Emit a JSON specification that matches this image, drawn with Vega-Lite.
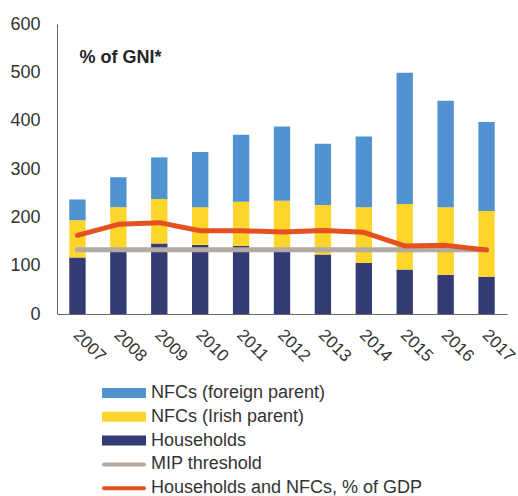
{
  "$schema": "https://vega.github.io/schema/vega-lite/v6.json",
  "width": 450,
  "height": 290,
  "autosize": {"type": "none"},
  "padding": {"left": 57, "top": 24, "right": 12, "bottom": 182},
  "background": "white",
  "datasets": {
    "bars": [
      {"year": "2007", "series": "Households", "value": 117},
      {"year": "2007", "series": "NFCs (Irish parent)", "value": 77},
      {"year": "2007", "series": "NFCs (foreign parent)", "value": 43},
      {"year": "2008", "series": "Households", "value": 130},
      {"year": "2008", "series": "NFCs (Irish parent)", "value": 91},
      {"year": "2008", "series": "NFCs (foreign parent)", "value": 62},
      {"year": "2009", "series": "Households", "value": 146},
      {"year": "2009", "series": "NFCs (Irish parent)", "value": 92},
      {"year": "2009", "series": "NFCs (foreign parent)", "value": 86},
      {"year": "2010", "series": "Households", "value": 143},
      {"year": "2010", "series": "NFCs (Irish parent)", "value": 78},
      {"year": "2010", "series": "NFCs (foreign parent)", "value": 114},
      {"year": "2011", "series": "Households", "value": 141},
      {"year": "2011", "series": "NFCs (Irish parent)", "value": 91},
      {"year": "2011", "series": "NFCs (foreign parent)", "value": 139},
      {"year": "2012", "series": "Households", "value": 130},
      {"year": "2012", "series": "NFCs (Irish parent)", "value": 104.5},
      {"year": "2012", "series": "NFCs (foreign parent)", "value": 153.5},
      {"year": "2013", "series": "Households", "value": 123},
      {"year": "2013", "series": "NFCs (Irish parent)", "value": 102.5},
      {"year": "2013", "series": "NFCs (foreign parent)", "value": 126.5},
      {"year": "2014", "series": "Households", "value": 106},
      {"year": "2014", "series": "NFCs (Irish parent)", "value": 114.7},
      {"year": "2014", "series": "NFCs (foreign parent)", "value": 146.3},
      {"year": "2015", "series": "Households", "value": 92},
      {"year": "2015", "series": "NFCs (Irish parent)", "value": 135.6},
      {"year": "2015", "series": "NFCs (foreign parent)", "value": 271.4},
      {"year": "2016", "series": "Households", "value": 81},
      {"year": "2016", "series": "NFCs (Irish parent)", "value": 140},
      {"year": "2016", "series": "NFCs (foreign parent)", "value": 220},
      {"year": "2017", "series": "Households", "value": 77},
      {"year": "2017", "series": "NFCs (Irish parent)", "value": 136},
      {"year": "2017", "series": "NFCs (foreign parent)", "value": 184}
    ],
    "lines": [
      {"year": "2007", "series": "MIP threshold", "value": 133},
      {"year": "2008", "series": "MIP threshold", "value": 133},
      {"year": "2009", "series": "MIP threshold", "value": 133},
      {"year": "2010", "series": "MIP threshold", "value": 133},
      {"year": "2011", "series": "MIP threshold", "value": 133},
      {"year": "2012", "series": "MIP threshold", "value": 133},
      {"year": "2013", "series": "MIP threshold", "value": 133},
      {"year": "2014", "series": "MIP threshold", "value": 133},
      {"year": "2015", "series": "MIP threshold", "value": 133},
      {"year": "2016", "series": "MIP threshold", "value": 133},
      {"year": "2017", "series": "MIP threshold", "value": 133},
      {"year": "2007", "series": "Households and NFCs, % of GDP", "value": 162.8},
      {"year": "2008", "series": "Households and NFCs, % of GDP", "value": 185.5},
      {"year": "2009", "series": "Households and NFCs, % of GDP", "value": 189},
      {"year": "2010", "series": "Households and NFCs, % of GDP", "value": 172.4},
      {"year": "2011", "series": "Households and NFCs, % of GDP", "value": 172.4},
      {"year": "2012", "series": "Households and NFCs, % of GDP", "value": 169.7},
      {"year": "2013", "series": "Households and NFCs, % of GDP", "value": 173},
      {"year": "2014", "series": "Households and NFCs, % of GDP", "value": 169},
      {"year": "2015", "series": "Households and NFCs, % of GDP", "value": 140.7},
      {"year": "2016", "series": "Households and NFCs, % of GDP", "value": 142},
      {"year": "2017", "series": "Households and NFCs, % of GDP", "value": 132.4}
    ]
  },
  "encoding": {
    "x": {
      "field": "year",
      "type": "nominal",
      "scale": {"paddingInner": 0.6, "paddingOuter": 0.3},
      "axis": {
        "title": null,
        "labelAngle": 45,
        "labelAlign": "left",
        "labelBaseline": "middle",
        "labelPadding": 18,
        "labelOffset": -1.5,
        "ticks": false,
        "domainColor": "#666666",
        "labelFontSize": 17,
        "labelColor": "#333333"
      }
    },
    "y": {
      "field": "value",
      "type": "quantitative",
      "stack": "zero",
      "scale": {"domain": [0, 600], "nice": false},
      "axis": {
        "values": [0, 100, 200, 300, 400, 500, 600],
        "title": "% of GNI*",
        "titleAngle": 0,
        "titleAlign": "left",
        "titleBaseline": "alphabetic",
        "titleX": 22,
        "titleY": 38,
        "titleFontSize": 18,
        "titleFontWeight": "bold",
        "titleColor": "#262626",
        "grid": false,
        "ticks": false,
        "labelPadding": 17,
        "labelFontSize": 18,
        "labelColor": "#333333",
        "domainColor": "#666666"
      }
    }
  },
  "layer": [
    {
      "data": {"name": "bars"},
      "mark": {"type": "bar"},
      "encoding": {
        "color": {
          "field": "series",
          "type": "nominal",
          "scale": {
            "domain": ["NFCs (foreign parent)", "NFCs (Irish parent)", "Households", "MIP threshold", "Households and NFCs, % of GDP"],
            "range": ["#5093D0", "#FDD52B", "#343C76", "#B3A9A1", "#E4501F"]
          },
          "legend": {
            "title": null,
            "orient": "none",
            "legendX": 58,
            "legendY": 360,
            "direction": "vertical",
            "symbolSize": 100,
            "symbolStrokeWidth": 0,
            "labelFontSize": 18,
            "labelColor": "#333333",
            "labelOffset": 18,
            "labelLimit": 0,
            "rowPadding": 5.8,
            "padding": 0,
            "encode": {
              "symbols": {
                "update": {
                  "shape": {"signal": "indexof(['MIP threshold','Households and NFCs, % of GDP'], datum.value) >= 0 ? 'M-4,-0.4H4A0.4,0.4,0,0,1,4,0.4H-4A0.4,0.4,0,0,1,-4,-0.4Z' : 'M-4.4,-1H4.4V1H-4.4Z'"},
                  "fill": {"scale": "color", "field": "value"},
                  "fillOpacity": {"value": 1},
                  "strokeWidth": {"value": 0},
                  "opacity": {"value": 1}
                }
              }
            }
          }
        },
        "order": {"field": "series", "sort": "ascending"}
      }
    },
    {
      "data": {"name": "lines"},
      "transform": [{"filter": "datum.series === 'MIP threshold'"}],
      "mark": {"type": "line", "strokeWidth": 5, "strokeCap": "round"},
      "encoding": {
        "color": {"field": "series", "type": "nominal"},
        "y": {"field": "value", "type": "quantitative", "stack": null}
      }
    },
    {
      "data": {"name": "lines"},
      "transform": [{"filter": "datum.series === 'Households and NFCs, % of GDP'"}],
      "mark": {"type": "line", "strokeWidth": 5, "strokeCap": "round", "strokeJoin": "round"},
      "encoding": {
        "color": {"field": "series", "type": "nominal"},
        "y": {"field": "value", "type": "quantitative", "stack": null}
      }
    }
  ],
  "config": {
    "view": {"stroke": null},
    "font": "Liberation Sans"
  }
}
